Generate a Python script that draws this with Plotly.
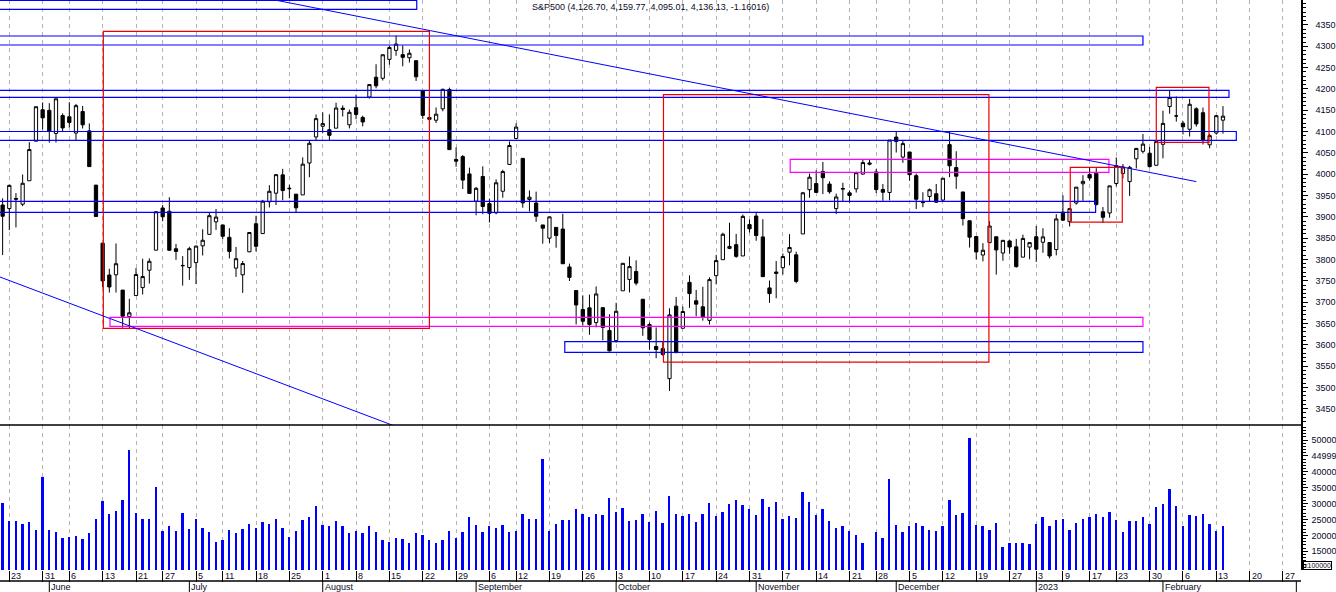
import pandas as pd
import plotly.graph_objects as go

# ---------------------------------------------------------------
# Seances de bourse (jours ouvres sans les jours feries, le 13/01 manque dans la source)
first_day = "2022-05-20"
last_day = "2023-02-14"
holidays = ["2022-05-30", "2022-06-20", "2022-07-04", "2022-09-05",
            "2022-11-24", "2022-12-26", "2023-01-02", "2023-01-16",
            "2023-01-13"]
future_end = "2023-03-01"

# OHLC par semaine
opens = [
    3927.76, 3919.42, 3942.94, 3929.59, 3984.60, 4077.43,
    4151.09, 4149.78, 4095.41, 4137.57,
    4134.72, 4096.47, 4147.12, 4101.65, 3974.39,
    3838.15, 3763.52, 3764.05, 3728.18, 3665.90,
    3715.31, 3733.89, 3774.71, 3821.75,
    3920.76, 3913.00, 3825.09, 3785.99, 3781.00,
    3792.61, 3831.98, 3858.85, 3888.26,
    3880.94, 3851.95, 3779.67, 3763.99, 3818.00,
    3883.79, 3860.73, 3935.32, 3955.47, 3998.43,
    3965.72, 3953.22, 3951.43, 4026.13, 4087.33,
    4112.38, 4104.21, 4107.96, 4154.85, 4115.87,
    4155.93, 4133.11, 4181.02, 4227.40, 4225.02,
    4269.37, 4290.46, 4280.40, 4273.13, 4266.31,
    4195.08, 4133.09, 4126.55, 4153.26, 4198.74,
    4034.58, 4041.25, 4000.67, 3936.73, 3994.66,
    3930.89, 3909.43, 3959.94, 4022.94,
    4083.67, 4037.12, 3940.73, 3932.41, 3880.95,
    3849.91, 3875.23, 3871.40, 3782.36, 3727.14,
    3682.72, 3686.44, 3651.94, 3687.01, 3633.48,
    3609.78, 3726.46, 3753.25, 3771.97, 3706.74,
    3647.51, 3595.86, 3590.83, 3520.37, 3690.41,
    3638.65, 3746.26, 3703.11, 3689.05, 3657.10,
    3762.01, 3799.44, 3825.97, 3834.69, 3808.26,
    3881.85, 3901.79, 3852.90, 3733.25, 3766.98,
    3780.71, 3817.02, 3810.94, 3859.89, 3963.72,
    3977.97, 4006.41, 3976.82, 3919.26, 3966.39,
    3956.23, 3965.51, 4000.30, 4023.34,
    4005.36, 3964.19, 3957.18, 4087.14, 4040.17,
    4052.02, 3996.63, 3933.28, 3947.79, 3954.17,
    3939.29, 4069.38, 4015.54, 3958.37, 3890.91,
    3853.79, 3810.47, 3839.49, 3853.26, 3815.11,
    3843.34, 3829.56, 3805.45, 3829.06,
    3853.29, 3840.36, 3839.74, 3823.37,
    3910.82, 3888.57, 3932.35, 3977.57,
    3999.28, 4002.25, 3911.84, 3909.04,
    3978.14, 4001.74, 3982.71, 4036.08, 4053.72,
    4049.27, 4020.85, 4070.07, 4158.68, 4136.69,
    4119.57, 4105.35, 4153.47, 4144.25, 4068.92,
    4096.62, 4126.70,
]
highs = [
    3943.42, 3975.45, 3955.68, 3999.33, 4075.14, 4158.49,
    4168.34, 4166.54, 4177.51, 4142.67,
    4168.78, 4164.86, 4160.14, 4119.10, 3974.39,
    3838.15, 3778.18, 3837.56, 3728.18, 3707.71,
    3779.65, 3801.79, 3802.58, 3913.65,
    3927.72, 3945.86, 3836.50, 3807.86, 3829.82,
    3832.19, 3870.91, 3910.63, 3918.50,
    3880.94, 3873.41, 3829.44, 3796.41, 3863.62,
    3902.44, 3939.81, 3974.13, 3999.29, 4012.44,
    3975.30, 3953.22, 4039.56, 4078.95, 4140.15,
    4144.95, 4140.47, 4167.66, 4161.29, 4151.58,
    4186.62, 4137.30, 4211.03, 4257.91, 4280.47,
    4301.79, 4325.28, 4302.18, 4292.53, 4266.31,
    4195.08, 4159.77, 4156.56, 4200.54, 4203.04,
    4062.99, 4044.98, 4015.37, 3970.23, 4018.43,
    3942.55, 3987.89, 4010.50, 4076.81,
    4119.28, 4037.12, 3961.94, 3959.14, 3880.95,
    3900.45, 3876.01, 3907.07, 3790.28, 3727.14,
    3715.67, 3717.53, 3736.74, 3687.01, 3671.44,
    3698.35, 3791.92, 3806.91, 3797.93, 3706.74,
    3652.17, 3640.66, 3608.34, 3685.41, 3712.00,
    3689.73, 3762.79, 3728.58, 3736.00, 3757.89,
    3810.74, 3862.85, 3886.15, 3859.95, 3905.42,
    3893.73, 3911.79, 3894.44, 3750.59, 3796.34,
    3813.95, 3859.40, 3818.20, 3958.33, 4001.48,
    4008.97, 4028.84, 3983.09, 3954.33, 3979.89,
    3962.00, 4005.88, 4033.78, 4034.02,
    4012.27, 3976.77, 4080.11, 4100.51, 4080.48,
    4052.45, 4001.51, 3957.57, 3966.41, 3977.02,
    3990.71, 4100.96, 4053.76, 3958.37, 3890.91,
    3854.86, 3838.24, 3889.82, 3853.26, 3845.80,
    3846.65, 3848.32, 3858.19, 3839.85,
    3878.46, 3873.16, 3839.74, 3906.19,
    3950.57, 3919.83, 3970.07, 3997.76,
    4015.39, 4014.16, 3922.94, 3972.96,
    4039.31, 4023.92, 4019.55, 4061.57, 4094.21,
    4063.85, 4077.16, 4148.95, 4195.44, 4182.36,
    4124.63, 4176.54, 4156.85, 4156.23, 4094.36,
    4138.90, 4159.77,
]
lows = [
    3810.32, 3868.91, 3875.13, 3925.03, 3984.60, 4077.43,
    4104.88, 4073.85, 4074.37, 4098.67,
    4109.18, 4080.19, 4107.20, 4017.17, 3900.16,
    3734.30, 3722.30, 3722.30, 3639.77, 3636.87,
    3715.31, 3717.69, 3743.52, 3821.75,
    3889.66, 3820.14, 3799.02, 3738.67, 3752.10,
    3742.06, 3809.37, 3858.85, 3869.34,
    3847.22, 3802.36, 3759.07, 3721.56, 3817.18,
    3818.63, 3860.73, 3922.03, 3927.64, 3938.85,
    3943.46, 3910.74, 3951.43, 3992.97, 4079.22,
    4096.02, 4079.81, 4107.96, 4135.42, 4107.31,
    4128.97, 4112.09, 4177.26, 4201.41, 4219.78,
    4256.90, 4277.77, 4253.08, 4261.98, 4218.70,
    4129.86, 4124.03, 4119.97, 4147.59, 4057.66,
    4017.42, 3965.21, 3954.53, 3903.65, 3906.21,
    3886.75, 3906.03, 3944.81, 4022.94,
    4083.67, 3921.27, 3912.32, 3888.28, 3837.08,
    3838.50, 3827.54, 3789.49, 3749.45, 3647.47,
    3644.76, 3623.29, 3640.61, 3610.40, 3584.13,
    3604.93, 3726.46, 3722.66, 3739.22, 3620.73,
    3588.10, 3568.45, 3573.86, 3491.58, 3579.68,
    3638.65, 3686.53, 3666.51, 3656.44, 3647.42,
    3741.65, 3799.44, 3824.07, 3803.79, 3808.26,
    3863.18, 3843.80, 3758.68, 3698.15, 3708.84,
    3764.70, 3786.28, 3744.22, 3859.89, 3944.82,
    3956.40, 3953.17, 3954.34, 3906.54, 3935.98,
    3933.34, 3956.88, 3998.66, 4020.76,
    3955.77, 3937.65, 3938.58, 4050.87, 4026.63,
    3984.49, 3918.39, 3922.68, 3935.83, 3933.04,
    3935.30, 3993.03, 3965.65, 3879.45, 3827.91,
    3800.04, 3795.62, 3839.49, 3764.49, 3797.01,
    3813.22, 3780.78, 3805.45, 3800.34,
    3794.33, 3815.77, 3802.42, 3809.56,
    3890.42, 3877.29, 3928.54, 3937.56,
    3984.57, 3926.59, 3885.54, 3897.86,
    3971.64, 3989.79, 3949.06, 4013.29, 4048.70,
    4015.55, 4020.44, 4037.20, 4141.88, 4123.36,
    4093.38, 4088.39, 4111.67, 4069.67, 4060.79,
    4092.67, 4095.01,
]
closes = [
    3901.36, 3973.75, 3941.48, 3978.73, 4057.84, 4158.24,
    4132.15, 4101.23, 4176.82, 4108.54,
    4121.43, 4160.68, 4115.77, 4017.82, 3900.86,
    3749.63, 3735.48, 3789.99, 3666.77, 3674.84,
    3764.79, 3759.89, 3795.73, 3911.74,
    3900.11, 3821.55, 3818.83, 3785.38, 3825.33,
    3831.39, 3845.08, 3902.62, 3899.38,
    3854.43, 3818.80, 3801.78, 3790.38, 3863.16,
    3830.85, 3936.69, 3959.90, 3998.95, 3961.63,
    3966.84, 3921.05, 4023.61, 4072.43, 4130.29,
    4118.63, 4091.19, 4155.17, 4151.94, 4145.19,
    4140.06, 4122.47, 4210.24, 4207.27, 4280.15,
    4297.14, 4305.20, 4274.04, 4283.74, 4228.48,
    4137.99, 4128.73, 4140.77, 4199.12, 4057.66,
    4030.61, 3986.16, 3955.00, 3966.85, 3924.26,
    3908.19, 3979.87, 4006.18, 4067.36,
    4110.41, 3932.69, 3946.01, 3901.35, 3873.33,
    3899.89, 3855.93, 3789.93, 3757.99, 3693.23,
    3655.04, 3647.29, 3719.04, 3640.47, 3585.62,
    3678.43, 3790.93, 3783.28, 3744.52, 3639.66,
    3612.39, 3588.84, 3577.03, 3669.91, 3583.07,
    3677.95, 3719.98, 3695.16, 3665.78, 3752.75,
    3797.34, 3859.11, 3830.60, 3807.30, 3901.06,
    3871.98, 3856.10, 3759.69, 3719.89, 3770.55,
    3806.80, 3828.11, 3748.57, 3956.37, 3992.93,
    3957.25, 3991.73, 3958.79, 3946.56, 3965.34,
    3949.94, 4003.58, 4027.26, 4026.12,
    3963.94, 3957.63, 4080.11, 4076.57, 4071.70,
    3998.84, 3941.26, 3933.92, 3963.51, 3934.38,
    3990.56, 4019.65, 3995.32, 3895.75, 3852.36,
    3817.66, 3821.62, 3878.44, 3822.39, 3844.82,
    3829.25, 3783.22, 3849.28, 3839.50,
    3824.14, 3852.97, 3808.10, 3895.08,
    3892.09, 3919.25, 3969.61, 3983.17,
    3990.97, 3928.86, 3898.85, 3972.61,
    4019.81, 4016.95, 4016.22, 4060.43, 4070.56,
    4017.77, 4076.60, 4119.21, 4179.76, 4136.48,
    4111.08, 4164.00, 4117.86, 4081.50, 4090.46,
    4137.29, 4136.13,
]
# volume (x100000), None = pas de volume ce jour-la
volumes = [
    30300, 24600, 24600, 23600, 24300, 21800,
    38400, 21800, 21100, 19300,
    19600, 19900, 19000, 20900, 25300,
    30900, 26800, 27800, 31200, 47000,
    27200, 25300, 25300, 35300,
    21500, 22800, 21500, 27200, 22100,
    25300, 22400, 21200, 18000,
    18400, 21800, 20900, 22100, 23700,
    22400, 24300, 23700, 25300, 22400,
    19600, 21500, 25000, 25900, 29400,
    23400, 23100, 24600, 22800, 20600,
    21500, 20900, 22800, 21200, 18700,
    18000, 19300, 19000, 17700, 20900,
    20200, 18400, 17700, 18700, 21500,
    19300, 21200, 25900, 23400, 21200,
    22800, 22400, 23400, 21200,
    21500, 26800, 25300, 25300, 44000,
    21500, 23700, 25000, 25000, 28400,
    26800, 25900, 26800, 26500, 31900,
    27500, 28700, 24600, 25000, 26800,
    24300, 27800, 24000, 32500, 26800,
    26200, 26800, 24300, 26800, 30300,
    26200, 27500, 30000, 31200, 29700,
    28400, 26500, 31600, 29000, 30600,
    25300, 26200, 25600, 33800, 30600,
    26500, 28400, 24600, 22400, 22800,
    21500, 20200, 17700, None,
    21200, 19300, 37800, 23400, 21200,
    23100, 24000, 22800, 21800, 21500,
    23100, 31200, 26500, 27200, 50700,
    23400, 22800, 21800, 24000, 16200,
    17700, 17700, 17700, 17400,
    23700, 25900, 22800, 25000,
    25300, 21800, 24000, 25300,
    25900, 26800, 25900, 27500,
    25000, 21200, 24600, 24600, 25900,
    23700, 29000, 30000, 34700, 29400,
    23100, 26500, 26200, 26800, 23700,
    21500, 22800,
]

price_ticks = list(range(3450, 4351, 50))
vol_ticks = [15000, 20000, 25000, 30000, 35000, 40000, 45000, 50000]
vol_ticktext = ["15000", "20000", "25000", "30000", "35000", "40000", "44999", "50000"]
month_names = {6: "June", 7: "July", 8: "August", 9: "September", 10: "October",
               11: "November", 12: "December", 1: "2023", 2: "February", 3: ""}
title = "S&P500 (4,126.70, 4,159.77, 4,095.01, 4,136.13, -1.16016)"

# objets traces sur le graphique : (debut, fin) en numero de seance, (bas, haut) en points
blue_bands = [(-1, 62.1, 4386.8, 4407.6), (-1, 171.0, 4303.0, 4324.2),
              (-1, 183.9, 4180.4, 4196.8), (-1, 185.0, 4079.5, 4100.1),
              (-1, 163.9, 3910.6, 3936.4), (84.3, 171.0, 3582.2, 3607.5)]
magenta_bands = [(16.1, 171.0, 3643.2, 3664.3), (118.1, 165.9, 4004.4, 4034.9)]
red_boxes = [(15.1, 64.0, 3638.5, 4335.2), (99.1, 147.9, 3559.4, 4186.5),
             (160.1, 167.9, 3887.8, 4016.1), (173.0, 180.9, 4074.8, 4203.8)]
trend_lines = [(30, 4442.0, 179.0, 3982.6), (-1, 3762.4, 62.4, 3388.0)]

# ---------------------------------------------------------------
days = pd.bdate_range(first_day, last_day)
days = days[~days.isin(pd.to_datetime(holidays))]
all_days = days.append(pd.bdate_range(pd.Timestamp(last_day) + pd.Timedelta(days=1), future_end))
idx = list(range(len(days)))

week_idx = [i for i in range(1, len(all_days)) if all_days[i].dayofweek < all_days[i - 1].dayofweek]
month_idx = [i for i in range(1, len(all_days)) if all_days[i].month != all_days[i - 1].month]

# - Elements graphique
W, H = 1336, 592
ml, mr, mt, mb = 0, 35, 0, 22
plot_h = H - mt - mb
split = 145 / plot_h
row = 11 / plot_h
txt_color = "#0a0a28"
font = dict(family="Liberation Sans, Arial", size=9, color=txt_color)

fig = go.Figure()

fig.add_trace(go.Candlestick(
    x=idx, open=opens, high=highs, low=lows, close=closes,
    increasing=dict(line=dict(color="black", width=1), fillcolor="white"),
    decreasing=dict(line=dict(color="black", width=1), fillcolor="black"),
    whiskerwidth=0, xaxis="x", yaxis="y", showlegend=False, hoverinfo="skip"))

fig.add_trace(go.Bar(
    x=idx, y=volumes, width=0.28, marker=dict(color="#0000ff", line=dict(width=0)),
    xaxis="x", yaxis="y2", showlegend=False, hoverinfo="skip"))

shapes = []
for x0, x1, lo, hi in blue_bands:
    shapes.append(dict(type="rect", xref="x", yref="y", x0=x0, x1=x1, y0=lo, y1=hi,
                       line=dict(color="#0000ff", width=1.2)))
for x0, x1, lo, hi in magenta_bands:
    shapes.append(dict(type="rect", xref="x", yref="y", x0=x0, x1=x1, y0=lo, y1=hi,
                       line=dict(color="#ff00ff", width=1.2)))
for x0, x1, lo, hi in red_boxes:
    shapes.append(dict(type="rect", xref="x", yref="y", x0=x0, x1=x1, y0=lo, y1=hi,
                       line=dict(color="#ee0000", width=1.2)))
for x0, y0, x1, y1 in trend_lines:
    shapes.append(dict(type="line", xref="x", yref="y", x0=x0, x1=x1, y0=y0, y1=y1,
                       line=dict(color="#0000ff", width=1)))

# separation prix / volume et lignes des dates
shapes.append(dict(type="line", xref="paper", yref="paper", x0=0, x1=1, y0=split, y1=split,
                   line=dict(color="black", width=1.5)))
shapes.append(dict(type="line", xref="paper", yref="paper", x0=0, x1=1, y0=-row, y1=-row,
                   line=dict(color="black", width=1.5)))
for i in month_idx:
    shapes.append(dict(type="line", xref="x", yref="paper", x0=i, x1=i, y0=-row, y1=-2 * row,
                       line=dict(color="black", width=1)))

annotations = []
for i in week_idx:
    annotations.append(dict(x=i, xref="x", y=-row / 2, yref="paper", text=str(all_days[i].day),
                            showarrow=False, xanchor="left", yanchor="middle", xshift=0, font=font))
for i in month_idx:
    name = month_names[all_days[i].month]
    if name:
        annotations.append(dict(x=i, xref="x", y=-1.5 * row, yref="paper", text=name,
                                showarrow=False, xanchor="left", yanchor="middle", xshift=0, font=font))
annotations.append(dict(x=650 / (W - mr), xref="paper", y=1 - 7 / plot_h, yref="paper", text=title,
                        showarrow=False, xanchor="center", yanchor="middle",
                        font=dict(family="Liberation Sans, Arial", size=9, color=txt_color)))
annotations.append(dict(x=1.0012, xref="paper", y=4.5 / plot_h, yref="paper", text="x100000",
                        showarrow=False, xanchor="left", yanchor="middle", bordercolor="black",
                        borderwidth=1, borderpad=0,
                        font=dict(family="Liberation Sans, Arial", size=7, color=txt_color)))

fig.update_layout(
    width=W, height=H,
    margin=dict(l=ml, r=mr, t=mt, b=mb),
    paper_bgcolor="white", plot_bgcolor="white",
    showlegend=False, bargap=0,
    xaxis=dict(domain=[0, 1], anchor="y2", range=[-0.394, 194.7],
               tickmode="array", tickvals=week_idx, showticklabels=False,
               ticks="outside", ticklen=11, tickcolor="black", tickwidth=1,
               showgrid=True, gridcolor="#b4b4b4", gridwidth=1, griddash="4px,4px",
               zeroline=False, showline=False, rangeslider=dict(visible=False), fixedrange=True),
    yaxis=dict(domain=[split, 1], anchor="x", side="right", range=[3411.7, 4408.6],
               tickmode="array", tickvals=price_ticks, ticks="outside", ticklen=5,
               tickcolor="black", ticklabelstandoff=6,
               minor=dict(dtick=10, ticks="outside", ticklen=3, tickcolor="black", showgrid=False),
               showgrid=False, zeroline=False, showline=True, linecolor="black", linewidth=1.5,
               tickfont=font),
    yaxis2=dict(domain=[0, split], anchor="x", side="right", range=[9119, 54717],
                tickmode="array", tickvals=vol_ticks, ticktext=vol_ticktext, ticks="outside",
                ticklen=5, tickcolor="black", ticklabelstandoff=2,
                minor=dict(dtick=1000, ticks="outside", ticklen=3, tickcolor="black", showgrid=False),
                showgrid=False, zeroline=False, showline=True, linecolor="black", linewidth=1.5,
                tickfont=font),
    shapes=shapes,
    annotations=annotations,
)

# pas de marge autour de la figure dans la page, pas de barre d'outils
fig.write_html("out.html", config={"displayModeBar": False},
               post_script="document.body.style.margin='0';")
